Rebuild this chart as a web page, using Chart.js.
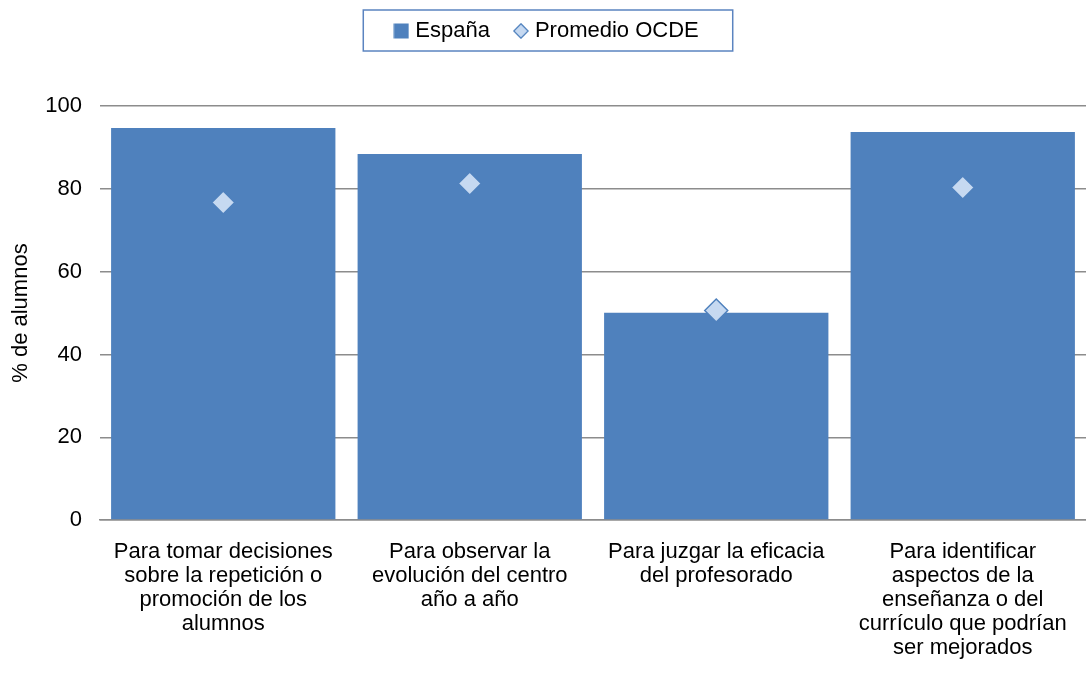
<!DOCTYPE html>
<html>
<head>
<meta charset="utf-8">
<script src="https://cdn.jsdelivr.net/npm/chart.js@4"></script>
<style>
  html, body { margin: 0; padding: 0; background: #fff; }
  #wrap { width: 1086px; height: 673px; }
</style>
</head>
<body>
<div id="wrap"><canvas id="myChart" width="1086" height="673"></canvas></div>
<script>
// categorias y valores
const categorias = [
    ["Para tomar decisiones", "sobre la repetición o", "promoción de los", "alumnos"],
    ["Para observar la", "evolución del centro", "año a año"],
    ["Para juzgar la eficacia", "del profesorado"],
    ["Para identificar", "aspectos de la", "enseñanza o del", "currículo que podrían", "ser mejorados"]
];
const espana = [94.7, 88.4, 50.1, 93.7];
const promedioOCDE = [76.7, 81.3, 50.6, 80.3];
const ticksY = [0, 20, 40, 60, 80, 100];

(() => {
    const ctx = document.getElementById('myChart').getContext('2d');
    const fuente = "'Liberation Sans', Arial, sans-serif";
    const azul = '#4F81BD';
    const celeste = '#C6D9F1';

    // marcadores pequeños para la leyenda
    function marcador(tipo) {
        const c = document.createElement('canvas');
        c.width = 16;
        c.height = 16;
        const g = c.getContext('2d');
        if (tipo == 'rect') {
            g.fillStyle = azul;
            g.fillRect(0.5, 0.5, 15, 15);
        } else {
            g.beginPath();
            g.moveTo(8, 0.8);
            g.lineTo(15.2, 8);
            g.lineTo(8, 15.2);
            g.lineTo(0.8, 8);
            g.closePath();
            g.fillStyle = celeste;
            g.fill();
            g.strokeStyle = azul;
            g.lineWidth = 1.3;
            g.stroke();
        }
        return c;
    }
    const marcadores = { 'España': marcador('rect'), 'Promedio OCDE': marcador('diamond') };

    // marco alrededor de la leyenda + espacio bajo ella
    const legendBox = {
        id: 'legendBox',
        beforeInit(chart) {
            const fit = chart.legend.fit;
            chart.legend.fit = function () {
                fit.bind(chart.legend)();
                this.height += 54;
            };
        },
        afterDraw(chart) {
            const lg = chart.legend;
            if (!lg || !lg.legendItems.length) return;
            const hit = lg.legendHitBoxes;
            const last = hit[hit.length - 1];
            const x0 = hit[0].left - 35;
            const x1 = last.left + last.width + 34;
            const y0 = hit[0].top - 10;
            const y1 = hit[0].top + hit[0].height + 9;
            const c = chart.ctx;
            c.save();
            c.strokeStyle = '#5B84C0';
            c.lineWidth = 1.5;
            c.strokeRect(x0, y0, x1 - x0, y1 - y0);
            c.restore();
        }
    };

    new Chart(ctx, {
        data: {
            labels: categorias,
            datasets: [
                {
                    type: 'line',
                    label: 'Promedio OCDE',
                    data: promedioOCDE,
                    showLine: false,
                    pointStyle: 'rectRot',
                    pointRadius: 11.5,
                    pointHoverRadius: 11.5,
                    pointBackgroundColor: celeste,
                    pointBorderColor: azul,
                    pointBorderWidth: 1.5,
                    backgroundColor: celeste,
                    borderColor: azul,
                    order: 0
                },
                {
                    type: 'bar',
                    label: 'España',
                    data: espana,
                    backgroundColor: azul,
                    borderWidth: 0,
                    barPercentage: 0.91,
                    categoryPercentage: 1.0,
                    order: 1
                }
            ]
        },
        options: {
            responsive: false,
            animation: false,
            layout: { autoPadding: false, padding: { top: -8, right: -8, left: 3, bottom: 12 } },
            plugins: {
                legend: {
                    position: 'top',
                    reverse: true,
                    labels: {
                        usePointStyle: true,
                        boxWidth: 6,
                        boxHeight: 16,
                        padding: 28,
                        color: '#000',
                        font: { family: fuente, size: 22 },
                        generateLabels: (chart) => {
                            const items = Chart.defaults.plugins.legend.labels.generateLabels(chart);
                            items.forEach(it => { it.pointStyle = marcadores[it.text]; it.lineWidth = 0; });
                            return items;
                        }
                    }
                },
                tooltip: { enabled: false }
            },
            scales: {
                x: {
                    grid: { display: false, drawTicks: true, tickLength: 19 },
                    border: { color: '#8c8c8c', width: 1.5 },
                    afterFit: (s) => { s.paddingLeft = 0; s.paddingRight = 0; },
                    ticks: {
                        color: '#000',
                        padding: 1,
                        maxRotation: 0,
                        autoSkip: false,
                        font: { family: fuente, size: 22, lineHeight: 1.09 }
                    }
                },
                y: {
                    min: 0,
                    max: 100,
                    afterBuildTicks: (axis) => { axis.ticks = ticksY.map(v => ({ value: v })); },
                    afterFit: (s) => { s.width = 97; },
                    grid: { color: '#8c8c8c', lineWidth: 1.5, drawTicks: false },
                    border: { display: false },
                    ticks: {
                        color: '#000',
                        padding: 18,
                        font: { family: fuente, size: 22 }
                    },
                    title: {
                        display: true,
                        text: '% de alumnos',
                        color: '#000',
                        padding: { top: 5, bottom: 10 },
                        font: { family: fuente, size: 22 }
                    }
                }
            }
        },
        plugins: [legendBox]
    });
})();
</script>
</body>
</html>
